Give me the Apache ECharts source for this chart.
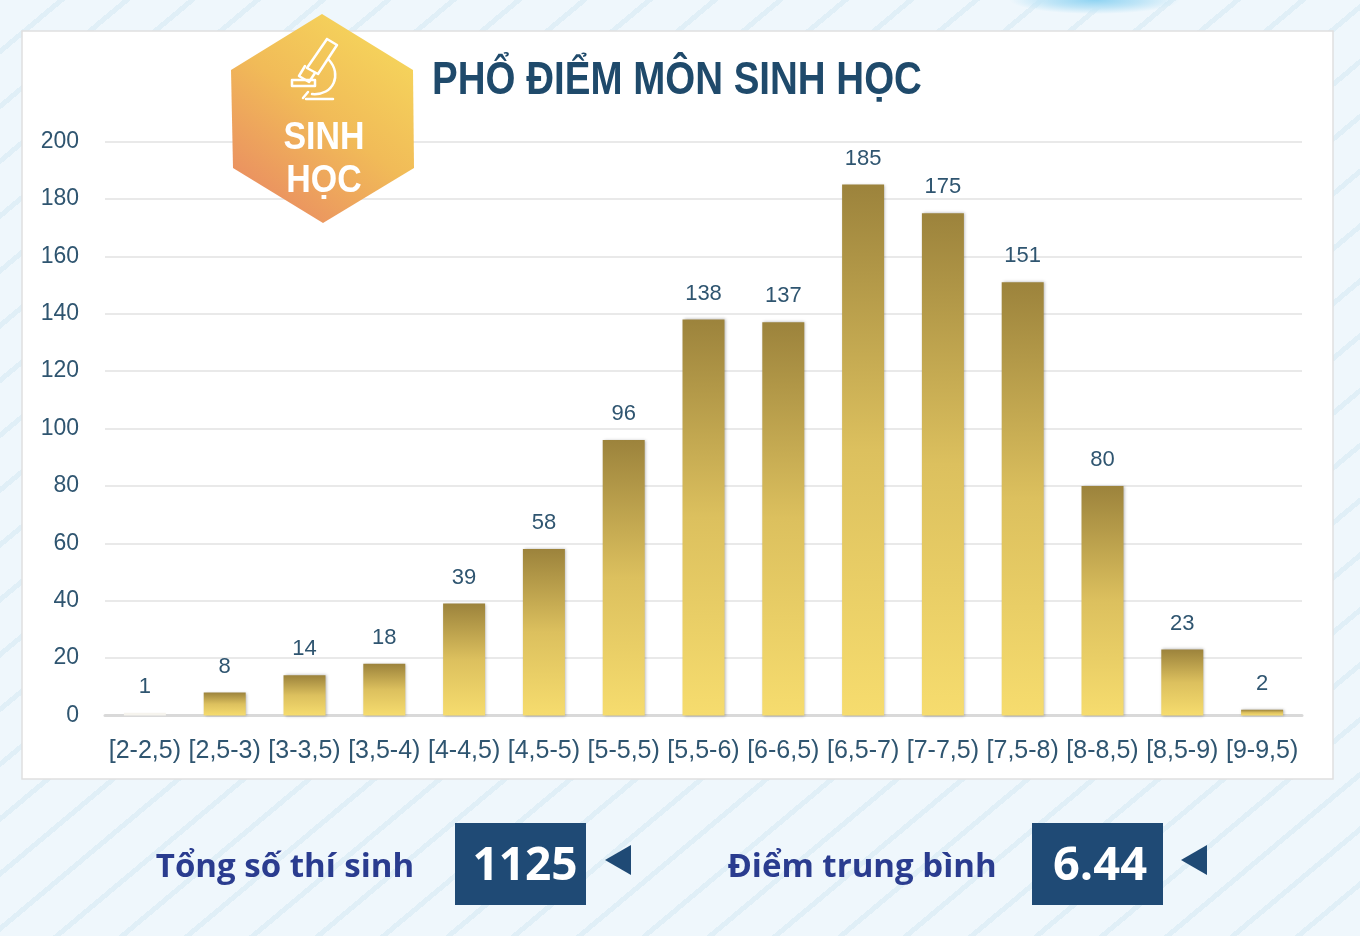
<!DOCTYPE html>
<html><head><meta charset="utf-8">
<script src="https://cdn.jsdelivr.net/npm/echarts@6/dist/echarts.min.js"></script>
<style>
html,body{margin:0;padding:0;width:1360px;height:936px;overflow:hidden;
background:
 radial-gradient(ellipse 85px 14px at 1095px 0px,#8fd3f2 0%,#bfe5f7 55%,rgba(220,240,250,0) 100%),
 repeating-linear-gradient(140deg,#eff7fc 0px,#eff7fc 37px,#e0eff7 37px,#e0eff7 42px);}
#c{width:1360px;height:936px}
</style></head><body><div id="c"></div>
<script>
const categories=['[2-2,5)','[2,5-3)','[3-3,5)','[3,5-4)','[4-4,5)','[4,5-5)','[5-5,5)','[5,5-6)','[6-6,5)','[6,5-7)','[7-7,5)','[7,5-8)','[8-8,5)','[8,5-9)','[9-9,5)'];
const counts=[1,8,14,18,39,58,96,138,137,185,175,151,80,23,2];
const yTicks=[0,20,40,60,80,100,120,140,160,180,200];
const chartTitle='PHỔ ĐIỂM MÔN SINH HỌC';
const badgeLines=['SINH','HỌC'];
const totalLabel='Tổng số thí sinh';
const totalValue='1125';
const meanLabel='Điểm trung bình';
const meanValue='6.44';

const SANS='"Liberation Sans",sans-serif';
const OPEN='"Open Sans",sans-serif';
const TXT='#2f5570';
const goldGrad={type:'linear',x:0,y:0,x2:0,y2:1,colorStops:[{offset:0,color:'#9c833c'},{offset:.5,color:'#dcc05e'},{offset:1,color:'#f6dc6e'}]};

function txt(x,y,text,size,color,family,z,scaleX){
  return {type:'text',x:x,y:y,z:z||20,scaleX:scaleX||1,style:{text:text,font:'bold '+size+'px '+family,fill:color,textAlign:'center',textVerticalAlign:'middle'}};
}
function tri(xr,xl){return {type:'polygon',z:20,shape:{points:[[xr,845],[xr,875],[xl,860]]},style:{fill:'#1f4a75'}};}
function box(x){return {type:'rect',z:20,shape:{x:x,y:823,width:131,height:82},style:{fill:'#1f4a75'}};}
const ln={stroke:'#fff',fill:'none',lineWidth:2.5,lineCap:'round',lineJoin:'round'};
function poly(points){return {type:'polyline',z:31,shape:{points:points},style:ln};}

const graphic=[
 {type:'rect',z:-10,shape:{x:22,y:31,width:1311,height:748},style:{fill:'#fff',stroke:'#e0e0e0',lineWidth:1.5}},
 {type:'polygon',z:30,shape:{points:[[322,14],[413,70],[414,168],[323,223],[233,168],[231,70]]},
  style:{fill:{type:'linear',x:1,y:0.1,x2:0.2,y2:1,colorStops:[{offset:0,color:'#f6d95c'},{offset:.5,color:'#f1bb58'},{offset:1,color:'#e98a62'}]}}},
 poly([[327,39],[337,45],[318,74],[307,68],[327,39]]),
 poly([[305,66],[299,76],[309,82],[315,73]]),
 {type:'bezierCurve',z:31,shape:{x1:329,y1:60,cpx1:342,cpy1:74,cpx2:334,cpy2:96,x2:312,y2:94},style:ln},
 poly([[292,80],[315,80],[315,86],[292,86],[292,80]]),
 poly([[308,92],[303,98]]),
 poly([[306,99],[333,99]]),
 txt(324,138,badgeLines[0],39,'#fff',SANS,31,0.87),
 txt(324,181,badgeLines[1],39,'#fff',SANS,31,0.87),
 txt(677,81,chartTitle,46,'#1f4a6b',SANS,20,0.837),
 txt(285,868,totalLabel,33,'#2a3c8f',OPEN,20),
 box(455),txt(525,867,totalValue,46,'#fff',OPEN,21),tri(631,605),
 txt(862,868,meanLabel,33,'#2a3c8f',OPEN,20),
 box(1032),txt(1100,867,meanValue,47,'#fff',OPEN,21),tri(1207,1181)
];

const chart=echarts.init(document.getElementById('c'),null,{renderer:'canvas'});
chart.setOption({
 animation:false,
 backgroundColor:'transparent',
 graphic:{elements:graphic},
 grid:{left:105,right:58,top:141.5,height:574},
 xAxis:{type:'category',data:categories,
  axisTick:{show:false},
  axisLine:{lineStyle:{color:'#d9d9d9',width:3}},
  axisLabel:{interval:0,color:TXT,fontFamily:SANS,fontSize:25,margin:23}},
 yAxis:{type:'value',min:0,max:200,interval:20,
  axisLine:{show:false},axisTick:{show:false},
  splitLine:{lineStyle:{color:'#e2e2e2',width:1.5}},
  axisLabel:{color:TXT,fontFamily:SANS,fontSize:23,margin:26,padding:[3,0,0,0],
   formatter:v=>yTicks.includes(v)?String(v):''}},
 series:[{type:'bar',barWidth:42,
  data:counts.map((v,i)=>i===0?{value:v,itemStyle:{color:'#f6f4ee',shadowColor:'transparent',shadowBlur:0,shadowOffsetX:0}}:v),
  itemStyle:{color:goldGrad,shadowColor:'rgba(0,0,0,.3)',shadowBlur:3,shadowOffsetX:1},
  label:{show:true,position:'top',distance:15,color:TXT,fontFamily:SANS,fontSize:22}}]
});
</script></body></html>
